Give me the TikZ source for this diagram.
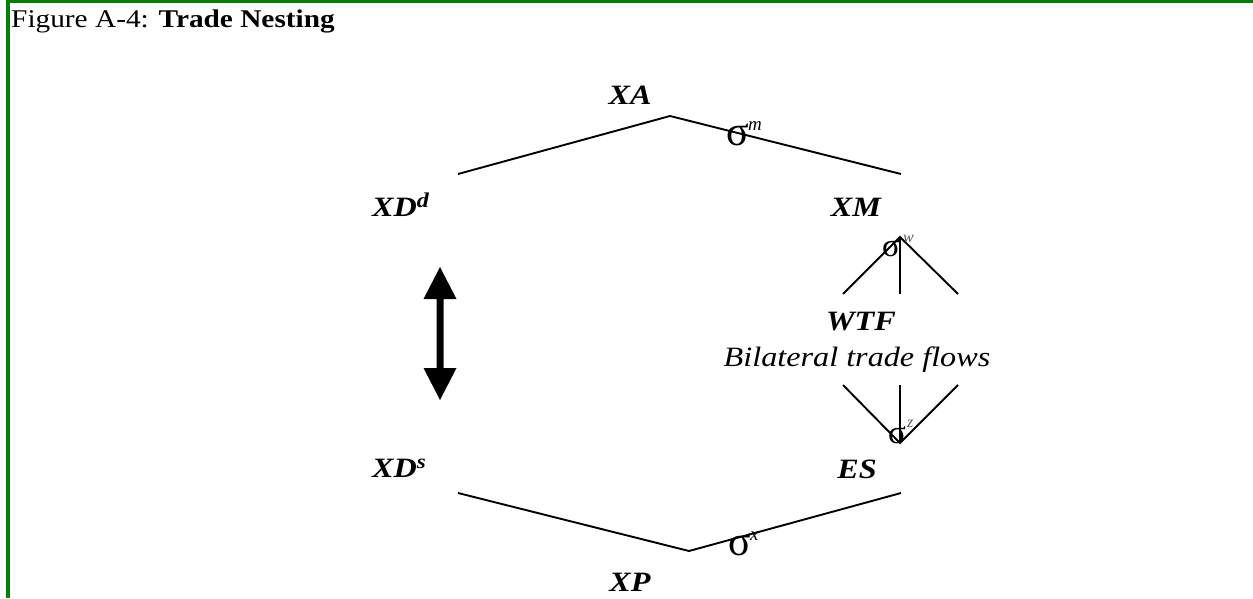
\documentclass[tikz,border=0pt]{standalone}
\usepackage{fontspec}
\setmainfont{Liberation Serif}
\newcommand{\hs}[1]{\scalebox{1.15}[1]{#1}}
\begin{document}
\begin{tikzpicture}[x=1pt,y=-1pt,
  lab/.style={font=\fontsize{28}{30}\selectfont\bfseries\itshape, inner sep=0pt, anchor=base},
  note/.style={font=\fontsize{28}{30}\selectfont\itshape, inner sep=0pt, anchor=base},
  sigbig/.style={font=\fontsize{42}{42}\selectfont, inner sep=0pt, anchor=base west},
  sigsmall/.style={font=\fontsize{33}{33}\selectfont, inner sep=0pt, anchor=base west},
  supbig/.style={font=\fontsize{19}{19}\selectfont\itshape, inner sep=0pt, anchor=base west},
  supsmall/.style={font=\fontsize{16}{16}\selectfont\itshape, inner sep=0pt, anchor=base west, text=black!65},
  edge/.style={draw=black, line width=1.9pt},
]
\definecolor{frame}{RGB}{0,128,0}
\useasboundingbox (0,0) rectangle (1253,598);
\fill[white] (0,0) rectangle (1253,598);
% frame: top and left rules
\fill[frame] (6,0) rectangle (1253,3.4);
\fill[frame] (6,0) rectangle (10,598);

% caption
\node[font=\fontsize{25.5}{27}\selectfont, inner sep=0pt, anchor=base west] (title) at (11,27)
  {\hs{Figure A-4: \textbf{Trade Nesting}}};

% labels
\node[lab] (xa) at (630,104) {\hs{XA}};
\node[lab, anchor=base west] (xdd) at (372,216) {\hs{XD\raisebox{9pt}{\fontsize{21}{21}\selectfont d}}};
\node[lab] (xm) at (856,216) {\hs{XM}};
\node[lab] (wtf) at (861,330) {\hs{WTF}};
\node[note] (btf) at (857,366) {\hs{Bilateral trade flows}};
\node[lab, anchor=base west] (xds) at (372,477) {\hs{XD\raisebox{9pt}{\fontsize{20}{20}\selectfont s}}};
\node[lab] (es) at (857,478) {\hs{ES}};
\node[lab] (xp) at (630,591) {\hs{XP}};

% junction points of the nests
\coordinate (top-l) at (458,174);
\coordinate (top-apex) at (670,116);
\coordinate (top-r) at (901,174);
\coordinate (bot-l) at (458,493);
\coordinate (bot-apex) at (689,551);
\coordinate (bot-r) at (901,493);
\coordinate (w-apex) at (900,237);
\coordinate (w-l) at (843,294);
\coordinate (w-c) at (900,294);
\coordinate (w-r) at (958,294);
\coordinate (z-apex) at (900,443);
\coordinate (z-l) at (843,385);
\coordinate (z-c) at (900,385);
\coordinate (z-r) at (958,385);

% nesting lines
\draw[edge] (top-l) -- (top-apex) -- (top-r);
\draw[edge] (bot-l) -- (bot-apex) -- (bot-r);
\draw[edge] (w-l) -- (w-apex) -- (w-r);
\draw[edge] (w-c) -- (w-apex);
\draw[edge] (z-l) -- (z-apex) -- (z-r);
\draw[edge] (z-c) -- (z-apex);

% elasticities
\node[sigbig] (sm) at (726,145) {σ};
\node[supbig] (smsup) at (748,130) {m};
\node[sigsmall] (sw) at (882,256) {σ};
\node[supsmall] (swsup) at (903,242) {w};
\node[sigsmall] (sz) at (888,443) {σ};
\node[supsmall] (szsup) at (907,427) {z};
\node[sigbig] (sx) at (728,555) {σ};
\node[supbig] (sxsup) at (750,540) {x};

% two-way arrow between the domestic nests
\coordinate (arr-top) at (440,267);
\coordinate (arr-bot) at (440,400);
\fill[black] (arr-top) -- ++(16.5,32) -- ++(-13,0) -- ++(0,69) -- ++(13,0)
  -- (arr-bot) -- ++(-16.5,-32) -- ++(13,0) -- ++(0,-69) -- ++(-13,0) -- cycle;
\end{tikzpicture}
\end{document}
